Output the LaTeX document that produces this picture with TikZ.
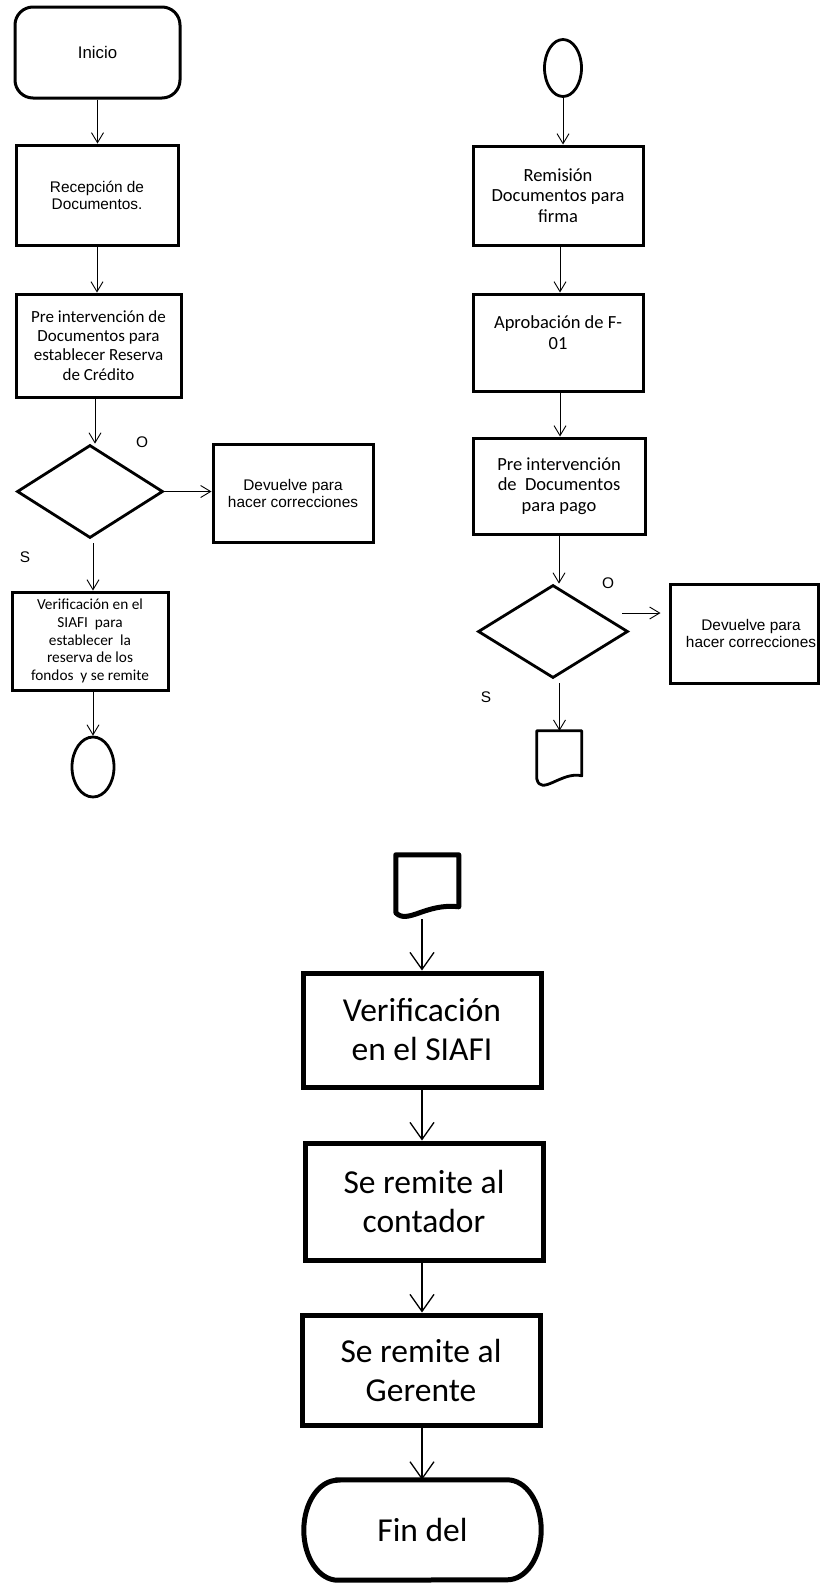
\documentclass[tikz,border=0pt]{standalone}
\usepackage{fontspec}
\setmainfont{Carlito}
\newfontfamily\arialfont{Liberation Sans}
\usetikzlibrary{shapes.geometric,arrows.meta}

\begin{document}
\begin{tikzpicture}[x=1pt,y=-1pt,
  thinbox/.style={draw, line width=3pt, inner sep=0pt, align=center},
  thickbox/.style={draw, line width=5pt, inner sep=0pt, align=center},
  decision/.style={draw, diamond, line width=2.8pt, inner sep=0pt},
  connector/.style={draw, ellipse, line width=2.8pt, inner sep=0pt},
  arialtxt/.style={font=\arialfont\fontsize{15.4}{17}\selectfont, align=center},
  calL/.style={font=\fontsize{17}{19.3}\selectfont, align=center},
  calS/.style={font=\fontsize{15.3}{17.7}\selectfont, align=center},
  calR/.style={font=\fontsize{18.5}{20.6}\selectfont, align=center},
  calB/.style={font=\fontsize{33.5}{39}\selectfont, align=center},
  arr/.style={-{Straight Barb[length=10pt,width=12pt]}, line width=0.9pt},
  bigarr/.style={-{Straight Barb[length=17pt,width=24pt]}, line width=1.3pt},
]
\useasboundingbox (0,0) rectangle (820,1583);

% ---------- left column ----------
\node[thinbox, rounded corners=18pt, minimum width=165pt, minimum height=91pt, font=\arialfont\fontsize{16.8}{19}\selectfont] (inicio) at (97.5,52.5) {Inicio};
\node[thinbox, minimum width=162pt, minimum height=100pt, arialtxt] (recep) at (97,195) {Recepción de\\Documentos.};
\node[thinbox, minimum width=165pt, minimum height=103pt, calL] (pre1) at (98.5,345.5) {Pre intervención de\\Documentos para\\establecer Reserva\\de Crédito};
\node[decision, minimum width=146pt, minimum height=93pt] (dia1) at (90,491.5) {};
\node[thinbox, minimum width=160pt, minimum height=98pt, arialtxt] (dev1) at (293,493) {Devuelve para\\hacer correcciones};
\node[thinbox, minimum width=156pt, minimum height=98pt, calS] (ver1) at (90,641) {Verificación en el\\SIAFI\ \ para\\establecer\ \ la\\reserva de los\\fondos\ \ y se remite};
\node[connector, minimum width=42pt, minimum height=60pt] (circ1) at (93,767) {};
\node[arialtxt] (o1) at (142,442) {O};
\node[arialtxt] (s1) at (25,557) {S};

\draw[arr] (inicio.south) -- (inicio.south |- recep.north);
\draw[arr] (recep.south) -- (recep.south |- pre1.north);
\draw[arr] ([xshift=-3.5pt]pre1.south) -- ([xshift=-3.5pt]pre1.south |- dia1.north);
\draw[arr] (dia1.east) -- (dia1.east -| dev1.west);
\draw[arr, shorten <=4pt] ([xshift=3pt]dia1.south) -- ([xshift=3pt]dia1.south |- ver1.north);
\draw[arr] (ver1.south -| circ1.north) -- (circ1.north);

% ---------- right column ----------
\node[connector, minimum width=37pt, minimum height=57pt] (circ2) at (563,68) {};
\node[thinbox, minimum width=170pt, minimum height=99pt, calR] (remis) at (558,195.5) {Remisión\\Documentos para\\firma};
\node[thinbox, minimum width=170pt, minimum height=97pt] (aprob) at (558,342.5) {};
\node[calR] (aprobtxt) at (558,332.5) {Aprobación de F-\\01};
\node[thinbox, minimum width=172pt, minimum height=96pt, calR] (pre2) at (559,486) {Pre intervención\\de\ \ Documentos\\para pago};
\node[decision, minimum width=150pt, minimum height=93pt] (dia2) at (553,631.5) {};
\node[thinbox, minimum width=148pt, minimum height=99pt] (dev2) at (744,633.5) {};
\node[arialtxt] (dev2txt) at (751,633) {Devuelve para\\hacer correcciones};
\node[arialtxt] (o2) at (608,583) {O};
\node[arialtxt] (s2) at (486,697) {S};
\node[inner sep=0pt, minimum width=45pt, minimum height=54pt] (doc1) at (559.5,758) {};
\draw[line width=2.8pt, line join=round, shift={(doc1.north west)}]
  (0,48) -- (0,0) -- (45,0) -- (45,45) .. controls (25,40) and (4,66) .. (0,48) -- cycle;

\draw[arr] (circ2.south) -- (circ2.south |- remis.north);
\draw[arr] ([xshift=2pt]remis.south) -- ([xshift=2pt]remis.south |- aprob.north);
\draw[arr] ([xshift=2pt]aprob.south) -- ([xshift=2pt]aprob.south |- pre2.north);
\draw[arr] (pre2.south) -- (pre2.south |- dia2.north);
\draw[arr, shorten >=8pt] ([shift={(-7pt,18.5pt)}]dia2.east) coordinate (a2) -- (a2 -| dev2.west);
\draw[arr, shorten <=4pt] (dia2.south -| doc1.north) -- (doc1.north);

% ---------- bottom column ----------
\node[inner sep=0pt, minimum width=63pt, minimum height=64pt] (doc2) at (427.5,887) {};
\draw[line width=5pt, line join=round, shift={(doc2.north west)}]
  (0,58) -- (0,0) -- (63,0) -- (63,52) .. controls (30,48) and (12,70) .. (0,58) -- cycle;
\node[thickbox, minimum width=238pt, minimum height=114pt, calB] (ver2) at (422,1030) {Verificación\\en el SIAFI};
\node[thickbox, minimum width=238pt, minimum height=117pt, calB] (cont) at (424,1201.5) {Se remite al\\contador};
\node[thickbox, minimum width=238pt, minimum height=110pt, calB] (ger) at (421,1370) {Se remite al\\Gerente};
% terminal with elliptical ends
\node[inner sep=0pt, minimum width=237pt, minimum height=100pt, calB] (fin) at (422.5,1530) {Fin del};
\draw[line width=5pt]
  ([xshift=34pt]fin.north west) -- ([xshift=-34pt]fin.north east)
  arc[start angle=90, end angle=-90, x radius=34pt, y radius=50pt]
  -- ([xshift=34pt]fin.south west)
  arc[start angle=270, end angle=90, x radius=34pt, y radius=50pt] -- cycle;

\draw[bigarr] (doc2.south -| ver2.north) -- (ver2.north);
\draw[bigarr] (ver2.south) -- (ver2.south |- cont.north);
\draw[bigarr] (cont.south -| ver2.south) -- (ver2.south |- ger.north);
\draw[bigarr] (ger.south -| ver2.south) -- (ver2.south |- fin.north);
\end{tikzpicture}
\end{document}
